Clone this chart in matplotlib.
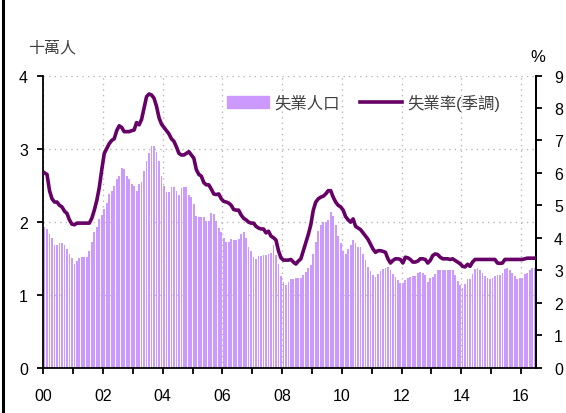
import numpy as np
import matplotlib
matplotlib.use('Agg')
import matplotlib.pyplot as plt
from matplotlib.lines import Line2D
from matplotlib.ticker import MultipleLocator, FuncFormatter

plt.rcParams['font.family'] = ['Liberation Sans', 'Noto Sans CJK TC']

# monthly data, Jan 2000 - Jun 2016
start_year = 2000
n_months = 198

# unemployed persons (hundred thousand)
unemployed = [
    1.93, 1.90, 1.83, 1.78, 1.68, 1.68, 1.71, 1.71, 1.68, 1.62, 1.56, 1.50,  # 2000
    1.42, 1.46, 1.50, 1.51, 1.51, 1.52, 1.59, 1.72, 1.85, 1.93, 2.03, 2.09,  # 2001
    2.17, 2.26, 2.38, 2.42, 2.49, 2.58, 2.63, 2.73, 2.72, 2.63, 2.58, 2.51,  # 2002
    2.49, 2.42, 2.51, 2.54, 2.69, 2.83, 2.94, 3.04, 3.04, 2.95, 2.83, 2.63,  # 2003
    2.49, 2.41, 2.41, 2.47, 2.47, 2.42, 2.36, 2.46, 2.47, 2.47, 2.36, 2.34,  # 2004
    2.24, 2.08, 2.06, 2.06, 2.06, 2.01, 2.01, 2.12, 2.10, 2.01, 1.91, 1.85,  # 2005
    1.78, 1.72, 1.72, 1.76, 1.74, 1.74, 1.76, 1.83, 1.85, 1.77, 1.65, 1.59,  # 2006
    1.51, 1.49, 1.53, 1.53, 1.54, 1.54, 1.56, 1.57, 1.68, 1.54, 1.42, 1.26,  # 2007
    1.17, 1.13, 1.17, 1.21, 1.21, 1.22, 1.23, 1.23, 1.27, 1.31, 1.36, 1.40,  # 2008
    1.55, 1.72, 1.87, 1.95, 1.99, 2.00, 2.02, 2.13, 2.07, 1.95, 1.80, 1.70,  # 2009
    1.60, 1.56, 1.62, 1.68, 1.74, 1.70, 1.65, 1.65, 1.55, 1.47, 1.38, 1.32,  # 2010
    1.27, 1.24, 1.28, 1.32, 1.35, 1.36, 1.37, 1.33, 1.28, 1.24, 1.20, 1.16,  # 2011
    1.16, 1.20, 1.23, 1.24, 1.25, 1.26, 1.30, 1.31, 1.30, 1.27, 1.17, 1.22,  # 2012
    1.24, 1.28, 1.34, 1.34, 1.34, 1.34, 1.34, 1.34, 1.33, 1.27, 1.19, 1.13,  # 2013
    1.09, 1.15, 1.21, 1.21, 1.28, 1.35, 1.36, 1.33, 1.30, 1.26, 1.22, 1.21,  # 2014
    1.22, 1.26, 1.27, 1.27, 1.30, 1.35, 1.36, 1.34, 1.30, 1.26, 1.21, 1.22,  # 2015
    1.23, 1.28, 1.30, 1.34, 1.36, 1.36,                                      # 2016
]

# unemployment rate, seasonally adjusted (%)
rate = [
    6.00, 5.95, 5.45, 5.20, 5.10, 5.10, 5.00, 4.95, 4.82, 4.75, 4.55, 4.42,  # 2000
    4.40, 4.45, 4.45, 4.45, 4.45, 4.45, 4.45, 4.60, 4.85, 5.15, 5.55, 6.10,  # 2001
    6.60, 6.75, 6.90, 7.00, 7.05, 7.30, 7.45, 7.40, 7.27, 7.27, 7.27, 7.30,  # 2002
    7.32, 7.55, 7.48, 7.65, 8.00, 8.35, 8.43, 8.40, 8.30, 8.05, 7.70, 7.50,  # 2003
    7.40, 7.30, 7.20, 7.05, 6.97, 6.80, 6.60, 6.55, 6.55, 6.60, 6.65, 6.55,  # 2004
    6.45, 6.10, 5.95, 5.90, 5.70, 5.63, 5.63, 5.50, 5.35, 5.33, 5.35, 5.20,  # 2005
    5.12, 5.10, 5.07, 5.00, 4.87, 4.85, 4.85, 4.70, 4.60, 4.55, 4.48, 4.45,  # 2006
    4.45, 4.35, 4.30, 4.27, 4.27, 4.15, 4.20, 4.05, 4.00, 3.93, 3.60, 3.38,  # 2007
    3.31, 3.31, 3.31, 3.33, 3.25, 3.19, 3.28, 3.35, 3.60, 3.85, 4.10, 4.40,  # 2008
    4.85, 5.10, 5.20, 5.25, 5.28, 5.35, 5.45, 5.45, 5.25, 5.10, 5.00, 4.95,  # 2009
    4.85, 4.65, 4.55, 4.48, 4.58, 4.35, 4.30, 4.25, 4.15, 4.05, 3.95, 3.80,  # 2010
    3.65, 3.55, 3.60, 3.60, 3.58, 3.55, 3.35, 3.22, 3.30, 3.35, 3.35, 3.33,  # 2011
    3.22, 3.40, 3.38, 3.33, 3.25, 3.25, 3.28, 3.35, 3.35, 3.33, 3.22, 3.30,  # 2012
    3.45, 3.50, 3.48, 3.40, 3.35, 3.35, 3.35, 3.33, 3.35, 3.30, 3.25, 3.20,  # 2013
    3.12, 3.10, 3.18, 3.12, 3.25, 3.33, 3.33, 3.33, 3.33, 3.33, 3.33, 3.33,  # 2014
    3.33, 3.33, 3.22, 3.21, 3.22, 3.33, 3.33, 3.33, 3.33, 3.33, 3.33, 3.33,  # 2015
    3.33, 3.35, 3.37, 3.37, 3.37, 3.37,                                      # 2016
]

bar_label = '失業人口'
line_label = '失業率(季調)'

# each month sits in the middle of its slot
x = start_year + (np.arange(n_months) + 0.5) / 12

fig = plt.figure(figsize=(5.66, 4.14), dpi=100)
ax = fig.add_axes([0.0765, 0.1099, 0.8705, 0.7053])

ax.bar(x, unemployed, width=0.72 / 12, color='#CC99FF', linewidth=0, zorder=2)
ax.set_xlim(start_year, start_year + n_months / 12)
ax.set_ylim(0, 4)
ax.set_yticks([0, 1, 2, 3, 4])
ax.xaxis.set_major_locator(MultipleLocator(2))
ax.xaxis.set_minor_locator(MultipleLocator(1))
ax.xaxis.set_major_formatter(FuncFormatter(lambda v, p: '%02d' % (int(round(v)) % 100)))
ax.set_axisbelow(True)
ax.grid(True, which='major', color='#b8b8b8', linestyle=(0, (1, 3)), linewidth=1)

ax2 = ax.twinx()
ax2.plot(x, rate, color='#660066', linewidth=2.6, solid_joinstyle='round', zorder=3)
ax2.set_ylim(0, 9)
ax2.set_yticks(range(10))

for a in (ax, ax2):
    a.spines['top'].set_visible(False)
    for s in a.spines.values():
        s.set_linewidth(1.3)
ax2.spines['left'].set_visible(False)
ax2.spines['bottom'].set_visible(False)

ax.tick_params(axis='y', direction='out', length=4, width=1.3, pad=7, labelsize=11.5)
ax.tick_params(axis='x', which='both', direction='out', length=4, width=1.3, pad=11, labelsize=11.5)
ax2.tick_params(axis='y', direction='out', length=4, width=1.3, pad=9, labelsize=11.5)

handles = [plt.Rectangle((0, 0), 1, 1, color='#CC99FF'),
           Line2D([], [], color='#660066', linewidth=2.6)]
fig.legend(handles, [bar_label, line_label], loc='center', bbox_to_anchor=(0.642, 0.751),
           ncol=2, frameon=False, fontsize=11.8, handlelength=2.6, handletextpad=0.3,
           columnspacing=1.2, labelcolor='#404040')

fig.text(52 / 566, 1 - 48 / 414, '十萬人', ha='center', va='center', fontsize=11.5, color='#404040')
fig.text(538 / 566, 1 - 58 / 414, '%', ha='center', va='center', fontsize=12)

# dark border on the left edge of the picture
fig.add_artist(Line2D([0.0045, 0.0045], [0, 1], transform=fig.transFigure, color='black', linewidth=2.2))

fig.savefig('out.png', dpi=100)
